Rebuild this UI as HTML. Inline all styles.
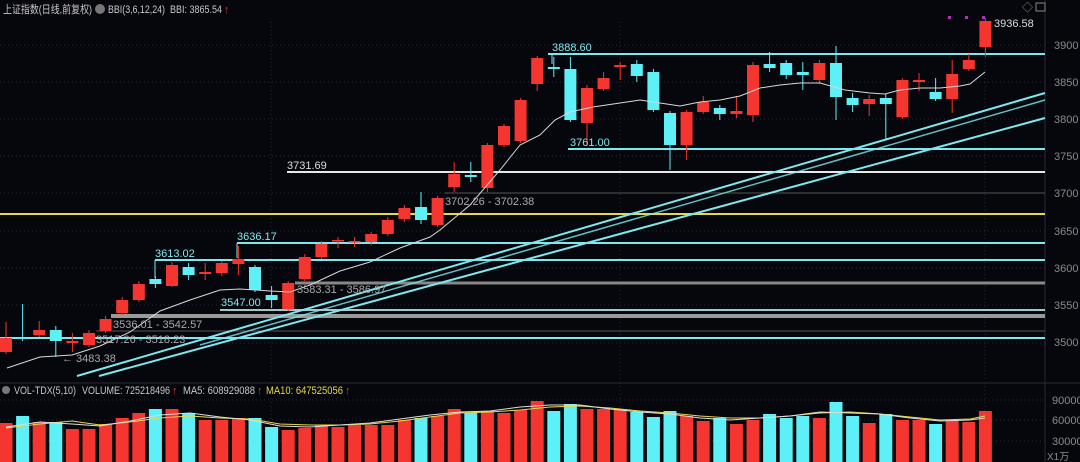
<!DOCTYPE html>
<html><head><meta charset="utf-8"><style>
html,body{margin:0;padding:0;background:#06060d;}
svg{display:block;font-family:"Liberation Sans","Noto Sans CJK SC",sans-serif;}
</style></head><body>
<svg id="s" width="1080" height="462" viewBox="0 0 1080 462" xmlns="http://www.w3.org/2000/svg">
<rect width="1080" height="462" fill="#06060d"/>
<g id="grid" stroke="#2a2a36" stroke-dasharray="1,3" stroke-width="1"></g>
<line x1="1045" y1="0" x2="1045" y2="462" stroke="#2a2a33"/>
<line x1="0" y1="383" x2="1080" y2="383" stroke="#2a2a33"/>
<g id="hl"></g>
<g id="c"></g>
<g id="v"></g>
<g fill="#c8c8c8" font-size="11">
<text x="3" y="13" textLength="89" lengthAdjust="spacingAndGlyphs">上证指数(日线,前复权)</text>
<circle cx="100" cy="9" r="5" fill="#777"/>
<text x="108" y="13" textLength="57" lengthAdjust="spacingAndGlyphs">BBI(3,6,12,24)</text>
<text x="170" y="13" textLength="52" lengthAdjust="spacingAndGlyphs">BBI: 3865.54</text>
<text x="224" y="13" fill="#d03a2a">↑</text>
<circle cx="6" cy="390" r="4" fill="#777"/>
<text x="14" y="394" textLength="62" lengthAdjust="spacingAndGlyphs">VOL-TDX(5,10)</text>
<text x="82" y="394" textLength="88" lengthAdjust="spacingAndGlyphs">VOLUME: 725218496</text>
<text x="172" y="394" fill="#d03a2a">↑</text>
<text x="183" y="394" textLength="72" lengthAdjust="spacingAndGlyphs">MA5: 608929088</text>
<text x="257" y="394" fill="#d03a2a">↑</text>
<text x="266" y="394" fill="#e6d84a" textLength="77" lengthAdjust="spacingAndGlyphs">MA10: 647525056</text>
<text x="345" y="394" fill="#d03a2a">↑</text>
</g>
<g fill="#8a8a8a" font-size="11">
<text x="1054" y="49">3900</text><text x="1054" y="86">3850</text><text x="1054" y="123">3800</text>
<text x="1054" y="160">3750</text><text x="1054" y="197">3700</text><text x="1054" y="235">3650</text>
<text x="1054" y="272">3600</text><text x="1054" y="309">3550</text><text x="1054" y="346">3500</text>
<text x="1052" y="404">90000</text><text x="1052" y="424">60000</text><text x="1052" y="445">30000</text>
<text x="1047" y="460" font-size="10">X1万</text>
<text x="1022" y="11">◇</text><rect x="1036" y="3" width="9" height="8" fill="none" stroke="#888"/>
</g>
<g font-size="11">
<text x="552" y="51" fill="#7fe8ee">3888.60</text>
<text x="570" y="146" fill="#7fe8ee">3761.00</text>
<text x="287" y="169" fill="#dddddd">3731.69</text>
<text x="445" y="205" fill="#aaaaaa">3702.26 - 3702.38</text>
<text x="237" y="240" fill="#7fe8ee">3636.17</text>
<text x="155" y="257" fill="#7fe8ee">3613.02</text>
<text x="297" y="293" fill="#aaaaaa">3583.31 - 3586.97</text>
<text x="221" y="306" fill="#7fe8ee">3547.00</text>
<text x="113" y="328" fill="#aaaaaa">3536.01 - 3542.57</text>
<text x="96" y="343" fill="#aaaaaa">3517.26 - 3518.23</text>
<text x="62" y="362" fill="#aaaaaa">← 3483.38</text>
<text x="994" y="27" fill="#dddddd">3936.58</text>
</g>
<g fill="#b030c0"><rect x="948" y="16" width="3" height="3"/><rect x="965" y="16" width="3" height="3"/><rect x="982" y="16" width="3" height="3"/></g>
</svg>
<script>
var ns="http://www.w3.org/2000/svg";
function el(p,t,a){var e=document.createElementNS(ns,t);for(var k in a)e.setAttribute(k,a[k]);document.getElementById(p).appendChild(e);return e;}
[45,82,119,156,193,231,268,305,343,400,420,441].forEach(function(y){el('grid','line',{x1:0,y1:y,x2:1045,y2:y});});
[271,620,985].forEach(function(x){el('grid','line',{x1:x,y1:22,x2:x,y2:462});});
var H=[[548,54,'#7fe8ee',2],[568,149,'#7fe8ee',2],[287,172,'#e8e8e8',2],[445,193,'#555',1],[0,214,'#e6d84a',2],[237,243,'#7fe8ee',2],[155,260,'#7fe8ee',2],[295,283,'#888',3],[220,310,'#a0c8cc',2],[111,316,'#999',4],[96,331,'#555',1],[0,338,'#7fe8ee',2]];
H.forEach(function(h){el('hl','line',{x1:h[0],y1:h[1],x2:1045,y2:h[1],stroke:h[2],'stroke-width':h[3]});});
el('hl','line',{x1:552,y1:54,x2:552,y2:64,stroke:'#7fe8ee','stroke-width':1});
el('hl','line',{x1:155,y1:260,x2:155,y2:278,stroke:'#7fe8ee','stroke-width':1});
el('hl','line',{x1:237,y1:243,x2:237,y2:258,stroke:'#7fe8ee','stroke-width':1});
el('hl','line',{x1:77,y1:376,x2:1045,y2:93,stroke:'#7fe8ee','stroke-width':2});
el('hl','line',{x1:99,y1:376,x2:1045,y2:118,stroke:'#7fe8ee','stroke-width':2});
el('hl','line',{x1:200,y1:345,x2:1045,y2:100,stroke:'#7fe8ee','stroke-width':1.5,opacity:0.8});
var C=[['r',338,352,322,354],['c',337,339,304,341],['r',330,335,321,337],['c',330,341,326,357],['r',341,343,333,352],['r',333,345,330,347],['r',319,331,316,333],['r',300,313,297,315],['r',284,300,281,302],['c',279,284,276,288],
['r',265,286,262,287],['c',267,275,263,280],['r',272,274,263,280],['r',263,273,261,276],['r',259,264,246,275],['c',267,290,265,292],['c',295,300,286,308],['r',283,309,281,311],['r',257,279,254,281],['r',244,257,241,259],
['r',240,241,237,248],['r',241,242,237,247],['r',234,242,232,245],['r',220,234,217,236],['r',208,219,205,222],['c',207,220,192,224],['r',198,225,196,227],['r',174,187,162,192],['c',175,177,162,182],['r',145,188,143,192],
['r',126,145,124,147],['r',100,141,98,143],['r',58,84,56,91],['c',67,69,57,77],['c',69,120,57,122],['r',88,123,85,146],['r',78,89,72,91],['r',65,67,62,80],['c',64,76,60,82],['c',72,110,69,112],
['c',113,145,111,170],['r',112,145,110,160],['r',102,112,96,114],['c',108,114,105,120],['r',111,114,96,118],['r',65,115,62,122],['c',64,68,52,72],['c',63,75,60,79],['c',72,75,62,90],['r',63,80,60,84],
['c',63,97,46,120],['c',98,105,93,112],['r',99,104,95,116],['c',98,104,94,139],['r',80,117,78,119],['r',80,82,73,91],['c',92,99,78,101],['r',74,99,60,113],['r',60,69,54,71],['r',21,47,18,57]];
var V=[423,416,422,422,429,429,424,418,413,409,409,413,420,420,418,418,427,430,428,425,427,425,425,425,420,418,416,409,413,411,413,410,401,411,404,409,409,409,412,417,411,416,421,418,424,420,414,418,416,418,402,416,423,414,420,420,424,420,422,411];
var RED='#f5352f',CY='#5df0f6';
C.forEach(function(d,i){var x=6+i*16.6,col=d[0]=='r'?RED:CY;
el('c','line',{x1:x,y1:d[3],x2:x,y2:d[4],stroke:col,'stroke-width':1});
var h=Math.max(d[2]-d[1],1.5);el('c','rect',{x:x-6,y:d[1],width:12,height:h,fill:col});
var vc=V[i];el('v','rect',{x:x-6.5,y:vc,width:13,height:462-vc,fill:col});});
var B="7,368 40,357 72,355 100,346 130,332 160,311 190,300 220,290 240,289 270,291 290,292 310,285 340,271 370,262 400,248 430,237 440,230 470,205 500,170 520,145 540,135 555,120 570,112 593,107 620,103 640,100 660,103 680,106 700,102 720,100 740,96 760,88 780,85 800,83 820,83 845,90 870,93 885,94 900,90 920,88 940,88 960,86 970,84 985,72";
el('c','polyline',{points:B,fill:'none',stroke:'#d8d8d8','stroke-width':1});
el('v','polyline',{points:"6,428 40,424 72,421 100,425 130,422 160,418 190,416 220,418 250,419 280,424 310,425 340,425 370,424 400,421 430,417 460,413 490,412 520,410 550,407 580,406 610,408 640,411 670,413 700,416 730,418 760,418 790,416 820,413 850,412 880,414 910,417 940,420 970,419 985,416",fill:'none',stroke:'#e6d84a','stroke-width':1});
el('v','polyline',{points:"6,427 40,422 72,424 100,426 130,421 160,415 190,413 220,417 250,420 280,426 310,427 340,425 370,423 400,419 430,415 460,412 490,411 520,407 550,405 580,405 610,409 640,412 670,414 700,418 730,420 760,418 790,416 820,412 850,413 880,414 910,418 940,421 970,420 985,418",fill:'none',stroke:'#dddddd','stroke-width':1});
</script>
</body></html>
